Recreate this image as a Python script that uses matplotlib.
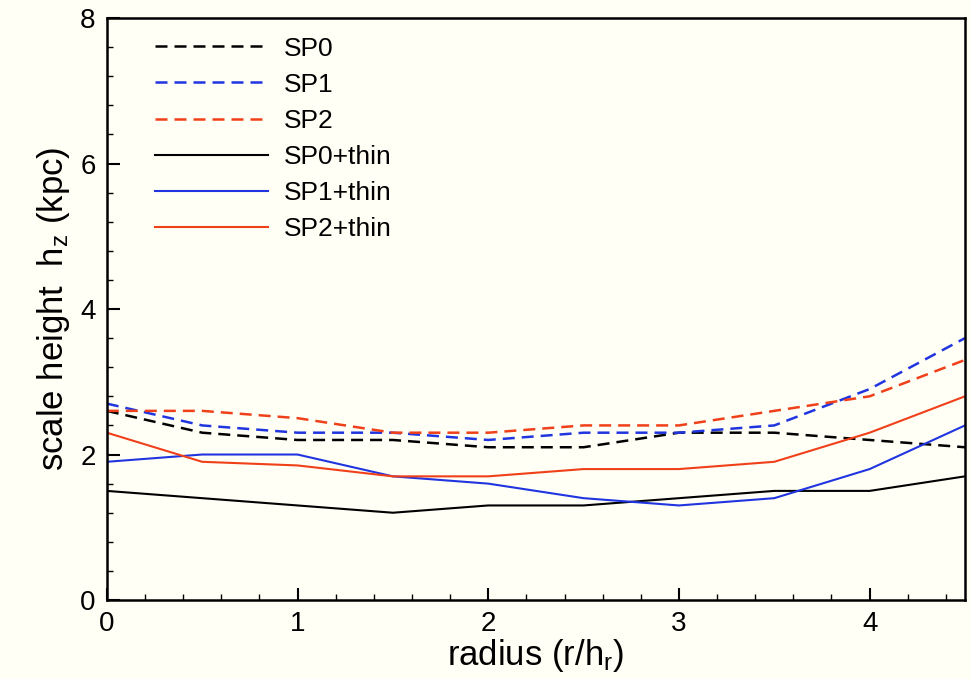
import matplotlib
matplotlib.use("Agg")
import matplotlib.pyplot as plt
from matplotlib.ticker import MultipleLocator

plt.rcParams['font.family'] = ['Liberation Sans', 'DejaVu Sans']
plt.rcParams['mathtext.fontset'] = 'custom'
plt.rcParams['mathtext.rm'] = 'Liberation Sans'
plt.rcParams['mathtext.it'] = 'Liberation Sans:italic'

radius = [0.0, 0.5, 1.0, 1.5, 2.0, 2.5, 3.0, 3.5, 4.0, 4.5]
sp0 = [2.6, 2.3, 2.2, 2.2, 2.1, 2.1, 2.3, 2.3, 2.2, 2.1]
sp1 = [2.7, 2.4, 2.3, 2.3, 2.2, 2.3, 2.3, 2.4, 2.9, 3.6]
sp2 = [2.6, 2.6, 2.5, 2.3, 2.3, 2.4, 2.4, 2.6, 2.8, 3.3]
sp0_thin = [1.5, 1.4, 1.3, 1.2, 1.3, 1.3, 1.4, 1.5, 1.5, 1.7]
sp1_thin = [1.9, 2.0, 2.0, 1.7, 1.6, 1.4, 1.3, 1.4, 1.8, 2.4]
sp2_thin = [2.3, 1.9, 1.85, 1.7, 1.7, 1.8, 1.8, 1.9, 2.3, 2.8]

labels = ['SP0', 'SP1', 'SP2', 'SP0+thin', 'SP1+thin', 'SP2+thin']
c_black = '#000000'
c_blue = '#2035e0'
c_red = '#f0401a'

bg = '#fffff5'
fig = plt.figure(figsize=(9.71, 6.79), dpi=100, facecolor=bg)
ax = fig.add_axes([0.110, 0.1163, 0.8838, 0.8572])
ax.set_facecolor(bg)

dash = (4.8, 2.8)
lw_d = 1.8
lw_s = 1.5
ax.plot(radius, sp0, color=c_black, lw=lw_d, dashes=dash, label=labels[0])
ax.plot(radius, sp1, color=c_blue, lw=lw_d, dashes=dash, label=labels[1])
ax.plot(radius, sp2, color=c_red, lw=lw_d, dashes=dash, label=labels[2])
ax.plot(radius, sp0_thin, color=c_black, lw=lw_s, label=labels[3])
ax.plot(radius, sp1_thin, color=c_blue, lw=lw_s, label=labels[4])
ax.plot(radius, sp2_thin, color=c_red, lw=lw_s, label=labels[5])

ax.set_xlim(0, 4.5)
ax.set_ylim(0, 8)
ax.xaxis.set_major_locator(MultipleLocator(1))
ax.xaxis.set_minor_locator(MultipleLocator(0.2))
ax.yaxis.set_major_locator(MultipleLocator(2))
ax.yaxis.set_minor_locator(MultipleLocator(0.4))
ax.tick_params(which='both', direction='in', top=False, right=False, labelsize=20, width=1.5)
ax.tick_params(which='major', length=9, pad=8)
ax.tick_params(which='minor', length=4, width=1.0)
for s in ax.spines.values():
    s.set_linewidth(1.8)

ax.set_xlabel(r'radius (r/h$_\mathrm{r}$)', fontsize=25, labelpad=0)
ax.set_ylabel(r'scale height  h$_\mathrm{z}$ (kpc)', fontsize=25, labelpad=6)

leg = ax.legend(loc='upper left', bbox_to_anchor=(0.029, 1.009), frameon=False,
                fontsize=19, handlelength=4.28, handletextpad=0.57, labelspacing=0.46)

fig.savefig('out.png', dpi=100, facecolor=bg)
